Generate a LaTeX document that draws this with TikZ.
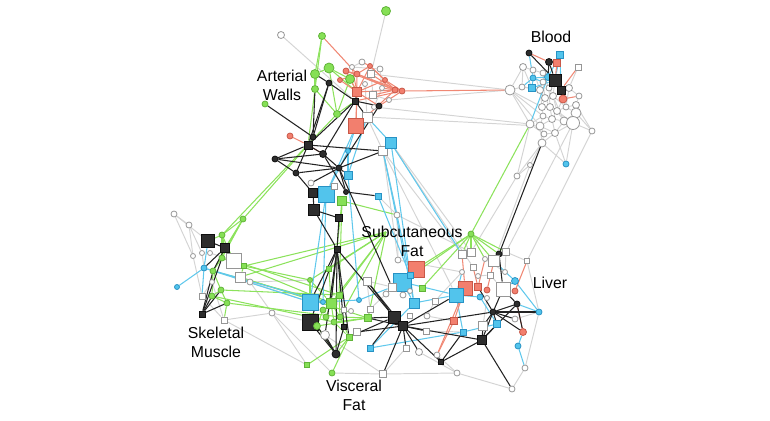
\documentclass[tikz,border=0pt]{standalone}
\usepackage{fontspec}
\setmainfont{Liberation Sans}
\usepackage{xcolor}
\usepackage{tikz}
\usetikzlibrary{backgrounds}
\definecolor{gfill}{RGB}{134,224,86}
\definecolor{gdraw}{RGB}{96,180,56}
\definecolor{rfill}{RGB}{242,127,110}
\definecolor{rdraw}{RGB}{200,88,72}
\definecolor{bfill}{RGB}{82,196,236}
\definecolor{bdraw}{RGB}{40,146,196}
\definecolor{kfill}{RGB}{45,45,45}
\definecolor{kdraw}{RGB}{15,15,15}
\definecolor{wdraw}{RGB}{150,150,150}
\definecolor{gedge}{RGB}{140,226,92}
\definecolor{redge}{RGB}{240,136,116}
\definecolor{bedge}{RGB}{96,200,236}
\definecolor{kedge}{RGB}{35,35,35}
\definecolor{wedge}{RGB}{212,212,212}

\begin{document}
\begin{tikzpicture}
      [
        x=0.02cm, y=-0.02cm,
        nd/.style={inner sep=0pt,line width=0.45pt},
        gc/.style={nd,circle,draw=gdraw,fill=gfill,minimum size=#1*0.57pt}, gc/.default=6,
        gs/.style={nd,rectangle,draw=gdraw,fill=gfill,minimum size=#1*0.57pt}, gs/.default=6,
        rc/.style={nd,circle,draw=rdraw,fill=rfill,minimum size=#1*0.57pt}, rc/.default=6,
        rs/.style={nd,rectangle,draw=rdraw,fill=rfill,minimum size=#1*0.57pt}, rs/.default=6,
        bc/.style={nd,circle,draw=bdraw,fill=bfill,minimum size=#1*0.57pt}, bc/.default=6,
        bs/.style={nd,rectangle,draw=bdraw,fill=bfill,minimum size=#1*0.57pt}, bs/.default=6,
        kc/.style={nd,circle,draw=kdraw,fill=kfill,minimum size=#1*0.57pt}, kc/.default=6,
        ks/.style={nd,rectangle,draw=kdraw,fill=kfill,minimum size=#1*0.57pt}, ks/.default=6,
        wc/.style={nd,circle,draw=wdraw,fill=white,minimum size=#1*0.57pt}, wc/.default=6,
        ws/.style={nd,rectangle,draw=wdraw,fill=white,minimum size=#1*0.57pt}, ws/.default=6,
        we/.style={draw=wedge,line width=0.55pt},
        ge/.style={draw=gedge,line width=0.6pt},
        re/.style={draw=redge,line width=0.6pt},
        be/.style={draw=bedge,line width=0.6pt},
        ke/.style={draw=kedge,line width=0.6pt},
        lbl/.style={align=center,font=\fontsize{9}{10.8}\selectfont}
      ]

      \useasboundingbox (0,0) rectangle (770,420);

      \node[gc=9] (a1) at (386,11) {};
      \node[wc=7] (a2) at (281,35) {};
      \node[gc=7] (a3) at (322,36) {};
      \node[gc=9] (a4) at (315,74) {};
      \node[gc=10] (a5) at (329,68) {};
      \node[gc=9] (a6) at (350,79) {};
      \node[gc=7] (a7) at (315,89) {};
      \node[kc] (a8) at (329,83) {};
      \node[gc] (a9) at (265,104) {};
      \node[gc=7] (a10) at (337,114) {};
      \node[wc=5] (a16) at (352,67) {};
      \node[wc] (a17) at (362,62) {};
      \node[wc] (a18) at (380,69) {};
      \node[rc] (a19) at (346,71) {};
      \node[rc] (a20) at (357,74) {};
      \node[rc=5] (a21) at (370,66) {};
      \node[rc] (a22) at (395,90) {};
      \node[rc] (a23) at (402,91) {};
      \node[wc=5] (a26) at (382,88) {};
      \node[wc=5] (a27) at (365,84) {};
      \node[rc=5] (a28) at (340,80) {};
      \node[wc=5] (a29) at (389,100) {};
      \node[rc=5] (a30) at (385,80) {};
      \node[wc=5] (a31) at (374,107) {};
      \node[ws=7] (a15) at (371,74) {};
      \node[ws=7] (a25) at (373,95) {};
      \node[ks] (a11) at (355,101) {};
      \node[rs=9] (a12) at (357,92) {};
      \node[ws=10] (a14) at (367,117) {};
      \node[rs=15] (a13) at (356,126) {};
      \node[kc] (a24) at (379,106) {};

      \node[kc] (m1) at (313,137) {};
      \node[rc] (m2) at (290,136) {};
      \node[ks=8] (m3) at (308,145) {};
      \node[kc] (m4) at (275,159) {};
      \node[kc=7] (m5) at (323,154) {};
      \node[kc] (m6) at (296,173) {};
      \node[kc] (m7) at (339,168) {};
      \node[bc=5] (m8) at (348,151) {};
      \node[ws=9] (m10) at (383,151) {};
      \node[bs=11] (m9) at (391,143) {};
      \node[bs=8] (m11) at (348,175) {};
      \node[wc] (m12) at (311,183) {};
      \node[ks=9] (m13) at (313,193) {};
      \node[bs=16] (m14) at (326,194) {};
      \node[ws] (m15) at (334,186) {};
      \node[kc=5] (m16) at (346,192) {};
      \node[gs=9] (m17) at (342,201) {};
      \node[ks=11] (m18) at (314,210) {};
      \node[ks=7] (m19) at (339,218) {};
      \node[bs] (m20) at (378,196) {};
      \node[wc] (m21) at (397,215) {};

      \node[kc] (b1) at (529,53) {};
      \node[kc=7] (b2) at (549,62) {};
      \node[bs=7] (b3) at (560,55) {};
      \node[rs=7] (b4) at (557,63) {};
      \node[ws] (b5) at (578,67) {};
      \node[wc=7] (b6) at (523,67) {};
      \node[wc] (b7) at (533,70) {};
      \node[bc=7] (b8) at (548,77) {};
      \node[bc] (b10) at (533,78) {};
      \node[wc] (b11) at (543,73) {};
      \node[wc] (b12) at (543,82) {};
      \node[bs=7] (b13) at (532,88) {};
      \node[wc=10] (b14) at (510,90) {};
      \node[wc] (b15) at (522,87) {};
      \node[wc=7] (b17) at (540,90) {};
      \node[wc] (b18) at (549,88) {};
      \node[wc=7] (b19) at (569,88) {};
      \node[ks=12] (b9) at (555,80) {};
      \node[ks=8] (b16) at (561,90) {};
      \node[rc=8] (b20) at (563,99) {};
      \node[wc=7] (b21) at (545,98) {};
      \node[wc=7] (b22) at (553,96) {};
      \node[wc] (b23) at (579,96) {};
      \node[wc=7] (b24) at (542,107) {};
      \node[wc=7] (b25) at (550,107) {};
      \node[wc=7] (b26) at (557,111) {};
      \node[wc] (b27) at (566,107) {};
      \node[wc=7] (b28) at (576,105) {};
      \node[wc] (b29) at (543,116) {};
      \node[wc=7] (b30) at (552,119) {};
      \node[wc=8] (b31) at (564,121) {};
      \node[wc=10] (b32) at (576,113) {};
      \node[wc=13] (b33) at (573,123) {};
      \node[wc=8] (b34) at (530,124) {};
      \node[wc=8] (b35) at (540,126) {};
      \node[wc=7] (b36) at (555,133) {};
      \node[wc] (b37) at (544,134) {};
      \node[wc] (b38) at (592,131) {};
      \node[wc=8] (b39) at (542,143) {};
      \node[bc] (b41) at (566,164) {};
      \node[wc=5] (b42) at (530,165) {};
      \node[wc] (b43) at (517,176) {};

      \node[wc] (s1) at (174,214) {};
      \node[wc] (s2) at (189,225) {};
      \node[gc] (s3) at (243,219) {};
      \node[gc] (s4) at (222,235) {};
      \node[ks=13] (s5) at (208,241) {};
      \node[ks=9] (s6) at (225,248) {};
      \node[wc=5] (s7) at (202,253) {};
      \node[wc=5] (s8) at (210,253) {};
      \node[wc=5] (s9) at (193,256) {};
      \node[gc] (s10) at (222,258) {};
      \node[ws=15] (s11) at (234,261) {};
      \node[gs=5] (s12) at (244,266) {};
      \node[bc] (s13) at (204,268) {};
      \node[gc] (s14) at (213,271) {};
      \node[ws=10] (s15) at (240,277) {};
      \node[wc] (s16) at (250,282) {};
      \node[wc=5] (s17) at (212,282) {};
      \node[bc=5] (s18) at (177,287) {};
      \node[gc] (s19) at (221,290) {};
      \node[gc] (s20) at (212,296) {};
      \node[ws] (s21) at (202,296) {};
      \node[gc] (s22) at (227,303) {};
      \node[ks] (s23) at (202,314) {};
      \node[ws] (s24) at (224,320) {};
      \node[wc] (s25) at (272,313) {};

      \node[ks] (v1) at (337,249) {};
      \node[gs=5] (v2) at (329,269) {};
      \node[gc=5] (v3) at (310,280) {};
      \node[ws=8] (v4) at (367,281) {};
      \node[bs=16] (v5) at (310,302) {};
      \node[gs=10] (v6) at (331,303) {};
      \node[bc=5] (v7) at (323,302) {};
      \node[bc=5] (v8) at (359,300) {};
      \node[gs] (v9) at (339,295) {};
      \node[ks=16] (v10) at (310,322) {};
      \node[gs=7] (v11) at (368,318) {};
      \node[ws] (v12) at (370,309) {};
      \node[gc] (v13) at (323,310) {};
      \node[gc] (v14) at (326,317) {};
      \node[gc] (v15) at (334,322) {};
      \node[gc] (v16) at (340,317) {};
      \node[gc=7] (v17) at (317,326) {};
      \node[ks=5] (v18) at (344,327) {};
      \node[wc=9] (v19) at (325,335) {};
      \node[gs] (v20) at (349,337) {};
      \node[ws=7] (v21) at (357,332) {};
      \node[bs] (v22) at (370,348) {};
      \node[kc=8] (v23) at (336,354) {};
      \node[gs=5] (v24) at (307,365) {};
      \node[gc] (v25) at (332,373) {};
      \node[ws=7] (v26) at (383,374) {};
      \node[ws=5] (v27) at (344,310) {};
      \node[wc=5] (v28) at (351,311) {};

      \coordinate (f0) at (386,232);
      \node[wc] (f1) at (398,260) {};
      \node[rs=16] (f2) at (416,269) {};
      \node[bs=18] (f3) at (402,282) {};
      \node[bs] (f4) at (410,275) {};
      \node[ws=8] (f5) at (392,287) {};
      \node[gs] (f6) at (422,288) {};
      \node[wc] (f7) at (386,294) {};
      \node[wc] (f8) at (403,295) {};
      \node[wc=5] (f9) at (410,291) {};
      \node[bs=10] (f10) at (414,303) {};
      \node[ks=12] (f11) at (394,317) {};
      \node[ks=9] (f12) at (403,326) {};
      \node[wc] (f13) at (427,316) {};
      \node[ws] (f14) at (426,331) {};
      \node[ws] (f15) at (406,348) {};
      \node[wc=7] (f16) at (419,352) {};
      \node[ws=5] (f17) at (410,316) {};

      \node[gc] (l1) at (471,234) {};
      \node[ws=8] (l2) at (462,254) {};
      \node[ws=8] (l3) at (471,252) {};
      \node[ws=7] (l5) at (506,252) {};
      \node[kc] (l4) at (499,254) {};
      \node[ws=5] (l6) at (527,261) {};
      \node[ws=11] (l7) at (494,261) {};
      \node[wc=5] (l8) at (485,259) {};
      \node[wc=5] (l9) at (462,272) {};
      \node[ws] (l10) at (473,267) {};
      \node[wc=5] (l37) at (478,276) {};
      \node[ws] (l38) at (490,275) {};
      \node[wc=5] (l39) at (505,272) {};
      \node[rs=14] (l11) at (465,288) {};
      \node[bs=14] (l12) at (456,295) {};
      \node[rs=7] (l13) at (478,287) {};
      \node[rc] (l14) at (487,290) {};
      \node[ws=14] (l15) at (503,289) {};
      \node[bc=7] (l16) at (515,281) {};
      \node[rc] (l17) at (515,291) {};
      \node[bc] (l18) at (480,297) {};
      \node[wc=5] (l19) at (487,298) {};
      \node[kc] (l20) at (493,312) {};
      \node[kc] (l21) at (517,304) {};
      \node[bc] (l22) at (539,312) {};
      \node[rs=7] (l23) at (454,321) {};
      \node[ws=9] (l24) at (483,326) {};
      \node[bs=7] (l25) at (497,324) {};
      \node[wc] (l26) at (515,319) {};
      \node[rc=7] (l27) at (523,332) {};
      \node[bs] (l28) at (463,332) {};
      \node[ks=9] (l29) at (482,340) {};
      \node[bc] (l30) at (518,346) {};
      \node[wc] (l31) at (437,355) {};
      \node[ks=5] (l32) at (441,362) {};
      \node[wc] (l33) at (525,368) {};
      \node[wc] (l34) at (457,373) {};
      \node[wc] (l35) at (512,389) {};
      \node[ws] (l36) at (435,301) {};

      \begin{pgfonlayer}{background}
      \draw[we] (a1) edge (a15);
      \draw[we] (a2) edge (a11);
      \draw[we] (a15) edge (b14) (a31) edge (b34) (a14) edge (b35) (a29) edge (b14);
      \draw[we] (a14) edge (m10) (a25) edge (a29) (a26) edge (a31) (a27) edge (a14) (a16) edge (a17) edge (a18) (a18) edge (a26) (a15) edge (a25);
      \draw[we] (m10) edge (l2) edge (f1) edge (m21) edge (l12) (m21) edge (l3) edge (f1) (m9) edge (l10) edge (l3) (m20) edge (m21);
      \draw[we] (b6) edge (b14) edge (b7) edge (b13) edge (b15) (b7) edge (b11) edge (b17) (b14) edge (b15) edge (b24) edge (b34) edge (b29) edge (b35);
      \draw[we] (b15) edge (b17) (b17) edge (b21) edge (b24) (b21) edge (b24) edge (b25) (b24) edge (b29) edge (b25) (b29) edge (b34) edge (b35) edge (b30);
      \draw[we] (b35) edge (b37) edge (b36) edge (b39) (b37) edge (b39) edge (b36) (b36) edge (b39) edge (b31) edge (b41) edge (b33) (b30) edge (b31) edge (b36) edge (b35);
      \draw[we] (b31) edge (b33) edge (b32) (b32) edge (b33) edge (b28) edge (b38) (b28) edge (b23) edge (b38) edge (b27) (b23) edge (b19) (b19) edge (b5) edge (b27);
      \draw[we] (b27) edge (b32) (b26) edge (b30) edge (b27) edge (b31) edge (b33) (b25) edge (b30) edge (b26) (b22) edge (b26) edge (b27) edge (b31) (b18) edge (b22) edge (b12) edge (b25);
      \draw[we] (b12) edge (b21) edge (b17) (b11) edge (b12) edge (b18) (b9) edge (b22) edge (b18) (b16) edge (b19) edge (b27) (b13) edge (b15) edge (b17) (b20) edge (b27) edge (b26);
      \draw[we] (b33) edge (b38) edge (b41) (b39) edge (b42) edge (b43) edge (b41) (b42) edge (b43) (b34) edge (b43) edge (b37);
      \draw[we] (b38) edge (l6) (b33) edge (l5) (b43) edge (l3) (b42) edge (l7);
      \draw[we] (s1) edge (s2) edge (s5) edge (s9) (s2) edge (s9) edge (s7) (s9) edge (s21) (s17) edge (s21) edge (s24);
      \draw[we] (s21) edge (s24) (s24) edge (s25) (s8) edge (s11) (s7) edge (s13) (s15) edge (s16) (s16) edge (s25) edge (v3);
      \draw[we] (s25) edge (v10) edge (v24) edge (v25) (s24) edge (v24) (s16) edge (v5);
      \draw[we] (v19) edge (v26) (v25) edge (v26) (v26) edge (l34) (f16) edge (l34) (l31) edge (l34) (l34) edge (l35);
      \draw[we] (l35) edge (l33) (l33) edge (l22) (l6) edge (l22) edge (l5) (l26) edge (l22) (l19) edge (l24);
      \draw[we] (f13) edge (l36) edge (l23) (f14) edge (l28) (f1) edge (l9) (f5) edge (v4) (f7) edge (v12) (l36) edge (l9);
      \draw[we] (l8) edge (l39) (l39) edge (l5) (l37) edge (l38) (l38) edge (l15) (f15) edge (v26) (v4) edge (v12);

      \draw[ge] (a3) edge (a7) edge (a4) (a4) edge (a5) edge (a7) (a5) edge (a6) edge (a10) edge (a12) (a7) edge (a10) edge (m3);
      \draw[ge] (a10) edge (a6) edge (a11) edge (s4) (a6) edge (a12) (s3) edge (m3);
      \draw[ge] (s3) edge (s4) edge (s6) edge (s10) edge (s14) (s4) edge (s5) edge (s6) edge (s11) edge (s10);
      \draw[ge] (s10) edge (s14) edge (s12) (s14) edge (s19) edge (s20) (s19) edge (s20) edge (s22) (s20) edge (s22) (s12) edge (s15) (s22) edge (s24);
      \draw[ge] (s10) edge (v6) (s14) edge (v6) (s19) edge (v9) (s15) edge (v11) (s11) edge (v9) (s20) edge (v15) (s22) edge (v16) (s12) edge (v3);
      \draw[ge] (m17) edge (m21) edge (v9) edge (v6);
      \draw[ge] (v2) edge (v6) (v3) edge (v6) edge (v5) (v6) edge (v9) edge (v13) edge (v14) edge (v15) edge (v16);
      \draw[ge] (v9) edge (v16) (v11) edge (v16) edge (v15) edge (v17) (v13) edge (v17) (v16) edge (v20) (v20) edge (v25) edge (v24) edge (v23);
      \draw[ge] (v15) edge (v20) (v17) edge (v23);
      \draw[ge] (f0) edge (s12) edge (s15) edge (v3) edge (v2) edge (v6) edge (v9) edge (v11) edge (v16);
      \draw[ge] (l1) edge (l2) edge (l3) edge (l7) edge (l5) edge (l4) edge (l8) edge (f6) edge (f2) edge (f3) edge (b34);

      \draw[be] (m9) edge (a14) edge (m10) edge (l2) edge (f10) (m8) edge (a13) edge (m11) edge (m14) (a13) edge (m14) (a14) edge (m11);
      \draw[be] (m10) edge (f4) edge (f10) (m14) edge (v5) edge (v7) (m11) edge (v8) (m20) edge (f4);
      \draw[be] (s18) edge (s13) (s13) edge (v5) edge (v7) edge (s21) edge (s5);
      \draw[be] (v5) edge (v7) (v7) edge (v8) (v8) edge (f5) (v22) edge (f10) edge (l28);
      \draw[be] (f3) edge (f4) edge (f10) edge (l12) (f10) edge (l12);
      \draw[be] (l12) edge (l18) edge (l28) edge (l9) (l18) edge (l25) (l16) edge (l22) edge (l7) edge (l15) (l22) edge (l21) (l25) edge (l28) (l30) edge (l27) edge (l33);
      \draw[be] (b3) edge (b8) edge (b9) edge (b16) (b8) edge (b10) edge (b9) edge (b34) (b10) edge (b13) edge (b12) edge (b15) (b1) edge (b10) (b9) edge (b13);

      \draw[re] (a3) edge (a20) (a22) edge (a12) edge (a20) edge (a15) edge (a25) (a21) edge (a12) edge (a22) edge (a30) (a19) edge (a12) edge (a22) edge (a20);
      \draw[re] (a20) edge (a13) edge (a23) edge (a21) (a12) edge (a13) edge (a16) edge (a24) (a30) edge (a12) edge (a23) edge (a22) (a28) edge (a12) edge (a20);
      \draw[re] (a23) edge (a11) edge (b14) edge (a24) (a17) edge (a21) (a13) edge (a22) (a26) edge (a23);
      \draw[re] (m2) edge (m3) (m3) edge (m5);
      \draw[re] (l13) edge (l8) edge (l10) (l11) edge (l23) edge (l2) edge (l31) (l23) edge (l31) (l14) edge (l7) (l17) edge (l6) (l27) edge (l21);
      \draw[re] (b1) edge (b2) (b4) edge (b9) edge (b3) (b5) edge (b16) (b20) edge (b16) edge (b23);

      \draw[ke] (a8) edge (a4) edge (a11) edge (m1) edge (m3) (a11) edge (a24) edge (a14) edge (m5) edge (m3) edge (a12);
      \draw[ke] (a9) edge (m1) (m1) edge (m3) edge (a7) (m3) edge (m4) edge (m5) edge (m6) edge (m10);
      \draw[ke] (m4) edge (m6) edge (m5) edge (m7) (m5) edge (m7) edge (m16) (m6) edge (m13) edge (m7);
      \draw[ke] (m7) edge (m12) edge (m10) edge (m16) edge (a24) edge (m11) edge (f5) (m16) edge (m20);
      \draw[ke] (m13) edge (m14) edge (m18) (m18) edge (m19) edge (v1) (m19) edge (v1);
      \draw[ke] (v1) edge (v10) edge (v5) edge (v23) edge (v18) edge (f11) edge (v19) edge (v20) edge (v6);
      \draw[ke] (v23) edge (v10) edge (v18) edge (v17) edge (v19);
      \draw[ke] (f12) edge (f11) edge (v11) edge (v21) edge (v26) edge (f15) edge (f16) edge (l29) edge (l32) edge (v4) edge (f14) edge (l20) edge (l12);
      \draw[ke] (f11) edge (v4) edge (v11) edge (v20) edge (v22);
      \draw[ke] (l29) edge (l24) edge (l20) edge (l21) edge (l32) edge (l35) edge (l25);
      \draw[ke] (l20) edge (l22) edge (l21) edge (l25) edge (l24) edge (l15) edge (l13) edge (l26) edge (l27);
      \draw[ke] (l21) edge (l27) edge (l15) (l4) edge (b39) edge (l7) edge (l15) (l32) edge (l31) edge (l28);
      \draw[ke] (s5) edge (s6) (s6) edge (s13) edge (s14) (s23) edge (s20) edge (s19) edge (s22) edge (s14) edge (s10);
      \draw[ke] (b1) edge (b9) (b2) edge (b9) edge (b8);
      \end{pgfonlayer}

      \node[lbl] (AW) at (282,85) {Arterial\\Walls};
      \node[lbl] (BL) at (551,37) {Blood};
      \node[lbl] (SM) at (216,342) {Skeletal\\Muscle};
      \node[lbl] (SF) at (412,241) {Subcutaneous\\Fat};
      \node[lbl] (LV) at (550,283) {Liver};
      \node[lbl] (VF) at (354,395) {Visceral\\Fat};
    \end{tikzpicture}
\end{document}
